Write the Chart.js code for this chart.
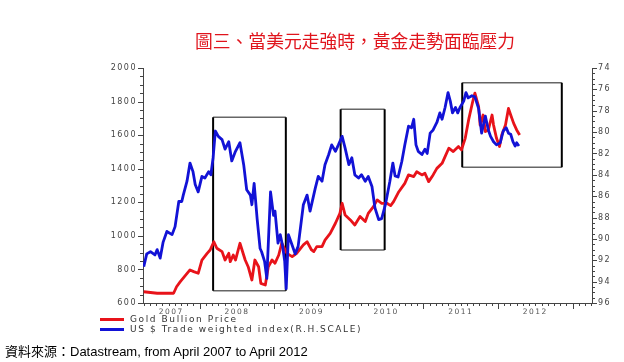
<!DOCTYPE html>
<html>
<head>
<meta charset="utf-8">
<script src="https://cdn.jsdelivr.net/npm/chart.js@4.4.0/dist/chart.umd.min.js"></script>
<style>
  html, body { margin: 0; padding: 0; background: #fff; }
  #wrap { position: relative; width: 624px; height: 362px; overflow: hidden; }
  #chart { position: absolute; left: 0; top: 0; }
  .title {
    position: absolute; left: 195px; top: 28px; white-space: nowrap;
    font-family: "Noto Sans CJK TC", sans-serif; font-size: 17.8px; line-height: 24px; color: #e0141c;
  }
  .legend-line { position: absolute; left: 100px; width: 24px; height: 3px; }
  .legend-text {
    position: absolute; left: 130px; white-space: nowrap;
    font-family: "DejaVu Sans", sans-serif; font-size: 9px; line-height: 10px; letter-spacing: 1.6px; color: #333;
  }
  .source {
    position: absolute; left: 5px; top: 343px; white-space: nowrap;
    font-family: "Liberation Sans", "Noto Sans CJK TC", sans-serif; font-size: 13px; line-height: 17px; color: #000;
  }
</style>
</head>
<body>
<div id="wrap">
  <canvas id="chart" width="624" height="362"></canvas>
  <div class="title">圖三、當美元走強時，黃金走勢面臨壓力</div>
  <div class="legend-line" style="top:318px;background:#e8131a;"></div>
  <div class="legend-text" style="top:314px;">Gold Bullion Price</div>
  <div class="legend-line" style="top:328px;background:#1212d6;"></div>
  <div class="legend-text" style="top:324px;">US $ Trade weighted index(R.H.SCALE)</div>
  <div class="source">資料來源：Datastream, from April 2007 to April 2012</div>
</div>
<script>
// -------------------- DATA --------------------
// gold bullion price, USD/oz (left scale); dates are fractional years
const goldDates = [
  2007.25, 2007.43, 2007.65, 2007.69, 2007.74, 2007.87, 2007.92, 2007.98, 2008.03, 2008.10,
  2008.14, 2008.19, 2008.23, 2008.30, 2008.34, 2008.39, 2008.41, 2008.45, 2008.48, 2008.54,
  2008.61, 2008.65, 2008.70, 2008.74, 2008.79, 2008.82, 2008.88, 2008.92, 2008.97, 2009.01,
  2009.06, 2009.10, 2009.17, 2009.24, 2009.30, 2009.39, 2009.44, 2009.50, 2009.53, 2009.57,
  2009.64, 2009.68, 2009.75, 2009.82, 2009.88, 2009.91, 2009.95, 2010.02, 2010.08, 2010.15,
  2010.22, 2010.26, 2010.33, 2010.38, 2010.44, 2010.51, 2010.56, 2010.60, 2010.67, 2010.75,
  2010.80, 2010.87, 2010.91, 2010.98, 2011.02, 2011.07, 2011.13, 2011.18, 2011.25, 2011.29,
  2011.34, 2011.40, 2011.47, 2011.51, 2011.56, 2011.61, 2011.66, 2011.69, 2011.74, 2011.76,
  2011.80, 2011.83, 2011.87, 2011.92, 2011.94, 2011.98, 2012.02, 2012.05, 2012.10, 2012.14,
  2012.17, 2012.21, 2012.25, 2012.29
];
const goldPrices = [
  667, 658, 658, 697, 727, 797, 787, 777, 856, 896,
  916, 965, 926, 906, 856, 896, 846, 886, 856, 956,
  856, 816, 737, 856, 816, 717, 707, 816, 856, 837,
  886, 956, 896, 876, 896, 946, 965, 916, 906, 936,
  936, 975, 1015, 1075, 1134, 1194, 1124, 1095, 1065, 1115,
  1085, 1134, 1174, 1214, 1194, 1194, 1180, 1204, 1263, 1313,
  1363, 1353, 1382, 1363, 1373, 1323, 1363, 1402, 1432, 1472,
  1522, 1502, 1532, 1512, 1581, 1700, 1799, 1850, 1770, 1660,
  1720, 1621, 1631, 1720, 1660, 1581, 1532, 1601, 1660, 1759,
  1720, 1670, 1631, 1601
];

// US $ trade weighted index (right scale, inverted)
const usdDates = [
  2007.25, 2007.29, 2007.34, 2007.40, 2007.43, 2007.47, 2007.51, 2007.56, 2007.63, 2007.67,
  2007.72, 2007.76, 2007.78, 2007.83, 2007.87, 2007.91, 2007.94, 2007.98, 2008.03, 2008.07,
  2008.12, 2008.15, 2008.18, 2008.21, 2008.25, 2008.30, 2008.34, 2008.39, 2008.43, 2008.48,
  2008.54, 2008.59, 2008.63, 2008.68, 2008.70, 2008.73, 2008.77, 2008.81, 2008.83, 2008.87,
  2008.90, 2008.95, 2008.99, 2009.01, 2009.05, 2009.08, 2009.11, 2009.14, 2009.16, 2009.19,
  2009.24, 2009.28, 2009.32, 2009.39, 2009.44, 2009.48, 2009.55, 2009.59, 2009.64, 2009.68,
  2009.73, 2009.77, 2009.82, 2009.86, 2009.91, 2009.95, 2010.00, 2010.04, 2010.08, 2010.13,
  2010.17, 2010.22, 2010.26, 2010.31, 2010.35, 2010.40, 2010.44, 2010.49, 2010.55, 2010.59,
  2010.62, 2010.66, 2010.71, 2010.75, 2010.80, 2010.84, 2010.87, 2010.90, 2010.93, 2010.98,
  2011.02, 2011.05, 2011.09, 2011.13, 2011.18, 2011.22, 2011.25, 2011.29, 2011.33, 2011.36,
  2011.39, 2011.43, 2011.46, 2011.49, 2011.54, 2011.57, 2011.60, 2011.65, 2011.69, 2011.74,
  2011.78, 2011.83, 2011.87, 2011.90, 2011.94, 2011.98, 2012.03, 2012.07, 2012.11, 2012.14,
  2012.17, 2012.20, 2012.23, 2012.25, 2012.28
];
const usdIndex = [
  92.6, 91.4, 91.2, 91.5, 91.0, 91.8, 90.3, 89.3, 89.6, 88.85,
  86.5, 86.5, 85.9, 84.6, 82.9, 83.7, 84.9, 85.6, 84.15, 84.3,
  83.7, 84.0, 82.4, 79.9, 80.4, 80.7, 81.6, 80.9, 82.7, 81.8,
  81.0, 83.05, 85.4, 85.9, 86.8, 84.8, 88.1, 90.9, 91.2, 92.1,
  93.7, 85.6, 87.8, 87.4, 90.4, 89.6, 90.6, 92.1, 94.65, 89.6,
  90.6, 91.4, 90.7, 86.8, 85.9, 87.4, 85.25, 84.15, 84.6, 83.05,
  82.1, 81.2, 81.8, 81.2, 80.4, 81.5, 83.05, 82.4, 84.0, 84.3,
  84.0, 84.6, 84.15, 85.1, 87.1, 88.2, 88.1, 86.8, 84.6, 82.9,
  84.1, 84.2, 82.75, 81.2, 79.45, 79.6, 78.8, 81.2, 81.8, 82.1,
  81.6, 82.0, 80.1, 79.8, 79.1, 78.2, 78.8, 77.7, 76.3, 77.1,
  78.2, 77.7, 78.2, 77.7, 77.1, 76.3, 76.8, 76.6, 76.7, 77.8,
  80.1, 78.5, 79.8, 80.4, 80.9, 81.2, 81.0, 79.9, 79.6, 80.1,
  80.2, 80.9, 81.3, 81.0, 81.3
];

// x axis: year labels sit mid-year (2007 mid-way through its visible part)
const yearLabels = ["2007", "2008", "2009", "2010", "2011", "2012"];
const yearLabelAt = [2007.62, 2008.5, 2009.5, 2010.5, 2011.5, 2012.5];
const xMin = 2007.24, xMax = 2013.26;

// highlighted periods: [from, to, low gold price, high gold price]
const boxStart = [2008.18, 2009.89, 2011.52];
const boxEnd = [2009.155, 2010.48, 2012.855];
const boxLow = [673, 916, 1408];
const boxHigh = [1706, 1754, 1912];

// -------------------- PLUGINS --------------------
const spacing = {
  id: "spacing",
  beforeLayout(chart) { chart.ctx.letterSpacing = "1.5px"; },
  beforeDraw(chart) { chart.ctx.letterSpacing = "1.5px"; },
};

const boxes = {
  id: "boxes",
  beforeDatasetsDraw(chart) {
    const { ctx, scales: { x, y } } = chart;
    ctx.save();
    boxStart.forEach((s, i) => {
      const l = x.getPixelForValue(s), r = x.getPixelForValue(boxEnd[i]);
      const t = y.getPixelForValue(boxHigh[i]), b = y.getPixelForValue(boxLow[i]);
      ctx.strokeStyle = "#666";
      ctx.lineWidth = 1.5;
      ctx.beginPath();
      ctx.moveTo(l, t); ctx.lineTo(r, t);
      ctx.moveTo(l, b); ctx.lineTo(r, b);
      ctx.stroke();
      ctx.strokeStyle = "#000";
      ctx.lineWidth = 2;
      ctx.beginPath();
      ctx.moveTo(l, t); ctx.lineTo(l, b);
      ctx.moveTo(r, t); ctx.lineTo(r, b);
      ctx.stroke();
    });
    ctx.restore();
  },
};

// small tick marks along the three axes
const minorTicks = {
  id: "minorTicks",
  afterDraw(chart) {
    const { ctx, chartArea: a, scales: { x, y, y2 } } = chart;
    ctx.save();
    ctx.strokeStyle = "#444";
    ctx.lineWidth = 1;
    ctx.beginPath();
    for (let v = 600; v <= 2000; v += 50) {
      const py = Math.round(y.getPixelForValue(v)) + 0.5;
      ctx.moveTo(a.left, py); ctx.lineTo(a.left - (v % 200 === 0 ? 5 : 3), py);
    }
    for (let v = 74; v <= 96; v += 0.5) {
      const py = Math.round(y2.getPixelForValue(v)) + 0.5;
      ctx.moveTo(a.right, py); ctx.lineTo(a.right + (v % 2 === 0 ? 5 : 3), py);
    }
    for (let yr = 2007; yr <= 2013; yr++) {
      for (let m = 0; m < 12; m++) {
        const v = yr + m / 12;
        if (v < xMin || v > xMax) continue;
        const px = Math.round(x.getPixelForValue(v)) + 0.5;
        ctx.moveTo(px, a.bottom); ctx.lineTo(px, a.bottom + (m === 0 ? 6 : 3));
      }
    }
    ctx.stroke();
    ctx.restore();
  },
};

// -------------------- CHART --------------------
const tickFont = { family: "DejaVu Sans", size: 8 };

new Chart(document.getElementById("chart"), {
  type: "line",
  data: {
    datasets: [
      {
        label: "US $ Trade weighted index(R.H.SCALE)",
        data: usdDates.map((d, i) => ({ x: d, y: usdIndex[i] })),
        yAxisID: "y2",
        borderColor: "#1212d6",
        borderWidth: 2.8,
        pointRadius: 0,
        tension: 0,
        borderJoinStyle: "round",
      },
      {
        label: "Gold Bullion Price",
        data: goldDates.map((d, i) => ({ x: d, y: goldPrices[i] })),
        yAxisID: "y",
        borderColor: "#e8131a",
        borderWidth: 2.8,
        pointRadius: 0,
        tension: 0,
        borderJoinStyle: "round",
      },
    ],
  },
  options: {
    responsive: false,
    animation: false,
    layout: { padding: { top: 68, left: 0, right: 0, bottom: 0 } },
    plugins: { legend: { display: false }, tooltip: { enabled: false }, title: { display: false } },
    scales: {
      x: {
        type: "linear",
        min: xMin,
        max: xMax,
        afterBuildTicks: (scale) => { scale.ticks = yearLabelAt.map((v) => ({ value: v })); },
        afterFit: (scale) => { scale.height = 59; },
        grid: { display: false, drawTicks: false },
        border: { display: true, color: "#444", width: 1 },
        ticks: {
          autoSkip: false,
          maxRotation: 0,
          padding: 5,
          color: "#555",
          font: { family: "DejaVu Sans", size: 7.5 },
          callback: (v, i) => yearLabels[i],
        },
      },
      y: {
        position: "left",
        min: 600,
        max: 2000,
        afterFit: (scale) => { scale.width = 143; },
        grid: { display: false, drawTicks: false },
        border: { display: true, color: "#444", width: 1 },
        ticks: { stepSize: 200, padding: 6, color: "#444", font: tickFont, callback: (v) => String(v) },
      },
      y2: {
        position: "right",
        min: 74,
        max: 96,
        reverse: true,
        afterFit: (scale) => { scale.width = 32; },
        grid: { display: false, drawTicks: false },
        border: { display: true, color: "#444", width: 1 },
        ticks: { stepSize: 2, padding: 6, color: "#444", font: tickFont, callback: (v) => String(v) },
      },
    },
  },
  plugins: [spacing, boxes, minorTicks],
});
</script>
</body>
</html>
